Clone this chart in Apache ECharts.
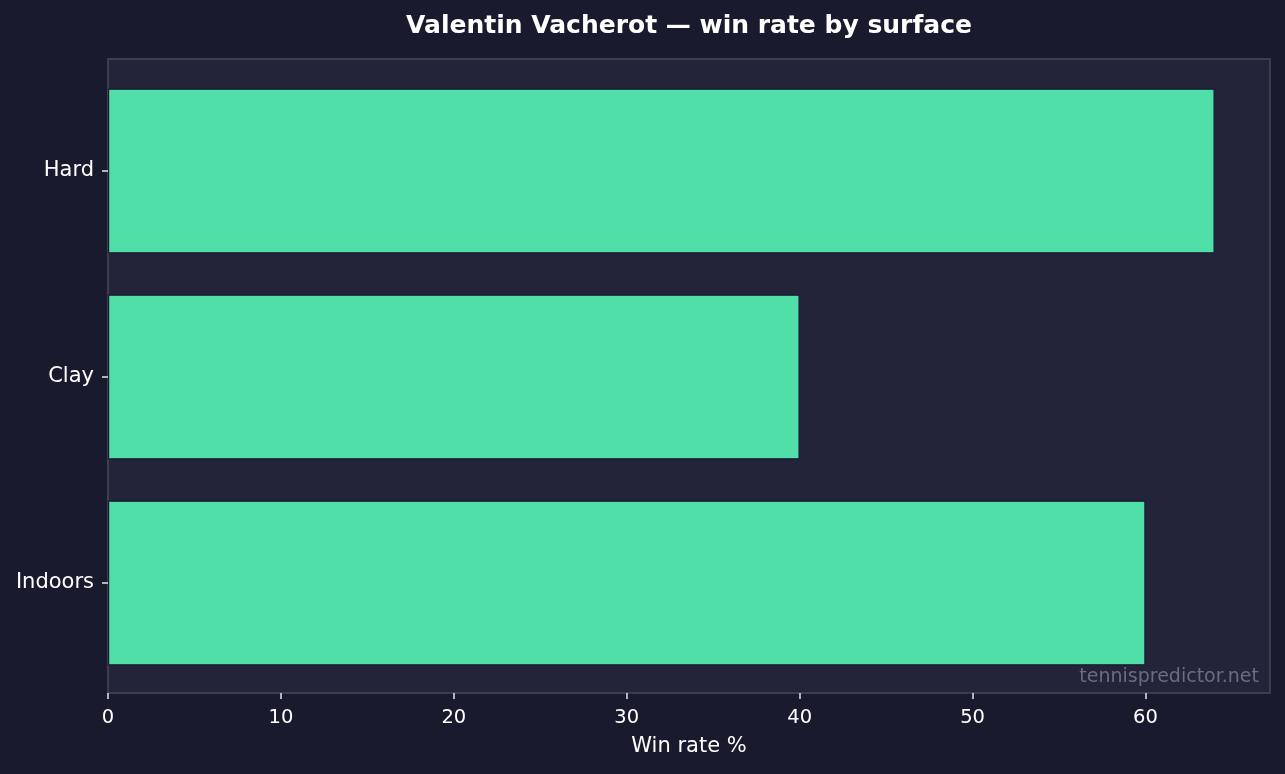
<!DOCTYPE html>
<html><head><meta charset="utf-8">
<script src="https://cdn.jsdelivr.net/npm/echarts@6/dist/echarts.min.js"></script>
<style>html,body{margin:0;padding:0;background:#1a1a2e;}#c{width:1285px;height:774px;}</style>
</head><body><div id="c"></div>
<script>
const categories = ['Hard', 'Clay', 'Indoors'];
const winRates = [64, 40, 60];
const xTicks = [0, 10, 20, 30, 40, 50, 60];
const xMax = 67.2;
const titleText = 'Valentin Vacherot — win rate by surface';
const xLabel = 'Win rate %';
const watermark = 'tennispredictor.net';

const FONT = 'DejaVu Sans';
const chart = echarts.init(document.getElementById('c'), null, {renderer: 'canvas'});
chart.setOption({
  backgroundColor: '#1a1a2e',
  animation: false,
  grid: [
    {left: 108, right: 15, top: 59, bottom: 81, show: true, backgroundColor: '#23233a', borderColor: '#48485a', borderWidth: 1.5, containLabel: false},
    {left: 108, right: 15, top: 68, bottom: 88, show: false, containLabel: false}
  ],
  xAxis: [
    {type: 'value', gridIndex: 0, min: 0, max: xMax,
     axisLine: {show: false}, splitLine: {show: false},
     axisTick: {show: true, length: 6, lineStyle: {color: '#e6e6e6', width: 1.5}, customValues: xTicks},
     axisLabel: {color: '#ffffff', fontFamily: FONT, fontSize: 19.5, margin: 15, customValues: xTicks},
     name: xLabel, nameLocation: 'middle', nameGap: 43,
     nameTextStyle: {color: '#ffffff', fontFamily: FONT, fontSize: 21}},
    {type: 'value', gridIndex: 1, min: 0, max: xMax, show: false}
  ],
  yAxis: [
    {type: 'value', gridIndex: 0, show: false},
    {type: 'category', gridIndex: 1, data: categories, inverse: true,
     axisLine: {show: false}, splitLine: {show: false},
     axisTick: {show: true, length: 6, alignWithLabel: true, lineStyle: {color: '#e6e6e6', width: 1.5}},
     axisLabel: {color: '#ffffff', fontFamily: FONT, fontSize: 21, margin: 14}}
  ],
  series: [{
    type: 'bar', xAxisIndex: 1, yAxisIndex: 1, data: winRates, barWidth: '80%',
    itemStyle: {color: '#50dfa8', borderColor: '#1a1a2e', borderWidth: 1.2}
  }],
  graphic: [
    {type: 'text', x: 689, y: 26, z: 100,
     style: {text: titleText, fill: '#ffffff', font: 'bold 25px ' + FONT, align: 'center', verticalAlign: 'middle'}},
    {type: 'text', right: 26, top: 668, z: 100,
     style: {text: watermark, fill: '#6c6c80', font: '19px ' + FONT}}
  ]
});
</script></body></html>
